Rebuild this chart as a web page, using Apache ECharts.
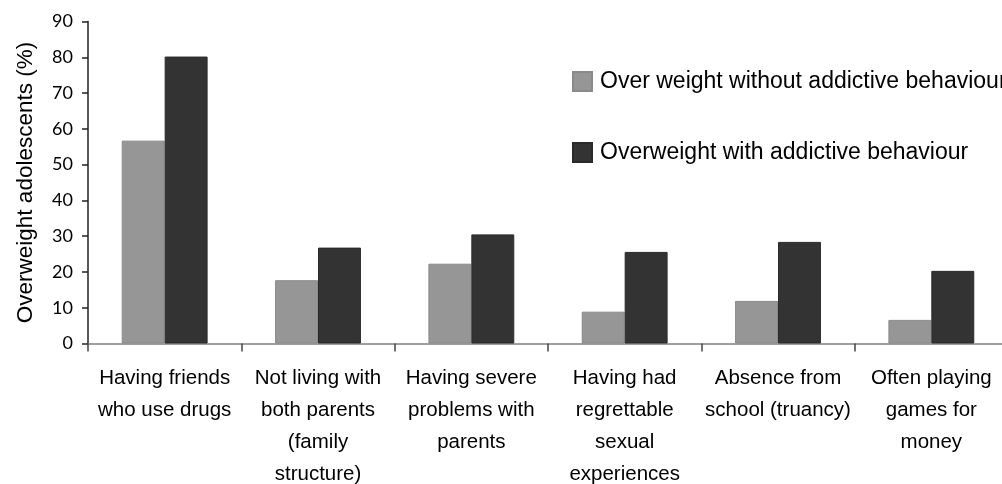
<!DOCTYPE html>
<html>
<head>
<meta charset="utf-8">
<script src="https://cdn.jsdelivr.net/npm/echarts@6/dist/echarts.min.js"></script>
<style>html,body{margin:0;padding:0;background:#fff;}#c{width:1002px;height:484px;}</style>
</head>
<body>
<div id="c"></div>
<script>
var categories = [
  "Having friends\nwho use drugs",
  "Not living with\nboth parents\n(family\nstructure)",
  "Having severe\nproblems with\nparents",
  "Having had\nregrettable\nsexual\nexperiences",
  "Absence from\nschool (truancy)",
  "Often playing\ngames for\nmoney"
];
var withoutAddictive = [56.7, 17.7, 22.3, 8.9, 11.9, 6.6];
var withAddictive = [80.2, 26.8, 30.5, 25.6, 28.4, 20.3];
var seriesNames = ["Over weight without addictive behaviour", "Overweight with addictive behaviour"];
var yTicks = [0, 10, 20, 30, 40, 50, 60, 70, 80, 90];

var sans = "'Liberation Sans', Arial, sans-serif";
var chart = echarts.init(document.getElementById('c'));
chart.setOption({
  animation: false,
  backgroundColor: '#fff',
  grid: { left: 88, top: 21.5, bottom: 140.5, width: 920, containLabel: false, outerBoundsMode: 'none' },
  legend: {
    orient: 'vertical', left: 572, top: 70, padding: 0,
    itemWidth: 19, itemHeight: 19, itemGap: 48, icon: 'rect',
    textStyle: { fontFamily: sans, fontSize: 23, color: '#000', padding: [0, 0, 0, 3] },
    data: seriesNames
  },
  xAxis: {
    type: 'category', data: categories,
    axisLine: { lineStyle: { color: '#808080', width: 1.5 } },
    axisTick: { show: true, length: 8, lineStyle: { color: '#444', width: 1.5 } },
    axisLabel: { fontFamily: sans, fontSize: 20.5, color: '#000', lineHeight: 32, margin: 19, interval: 0 }
  },
  yAxis: {
    type: 'value', min: yTicks[0], max: yTicks[yTicks.length - 1], interval: 10,
    name: 'Overweight adolescents (%)', nameLocation: 'middle', nameRotate: 90, nameGap: 51,
    nameTextStyle: { fontFamily: sans, fontSize: 22.5, color: '#000' },
    axisLine: { show: true, lineStyle: { color: '#222', width: 1.5 } },
    axisTick: { show: true, length: 6, lineStyle: { color: '#222', width: 1.5 } },
    axisLabel: { fontFamily: 'Lato, sans-serif', fontSize: 18, color: '#000', margin: 15 },
    splitLine: { show: false }
  },
  series: [
    { name: seriesNames[0], type: 'bar', data: withoutAddictive, barGap: '0%', barCategoryGap: '44%',
      itemStyle: { color: '#969696', borderColor: '#8a8a8a', borderWidth: 1 } },
    { name: seriesNames[1], type: 'bar', data: withAddictive, barGap: '0%', barCategoryGap: '44%',
      itemStyle: { color: '#333333', borderColor: '#2a2a2a', borderWidth: 1 } }
  ]
});
</script>
</body>
</html>
